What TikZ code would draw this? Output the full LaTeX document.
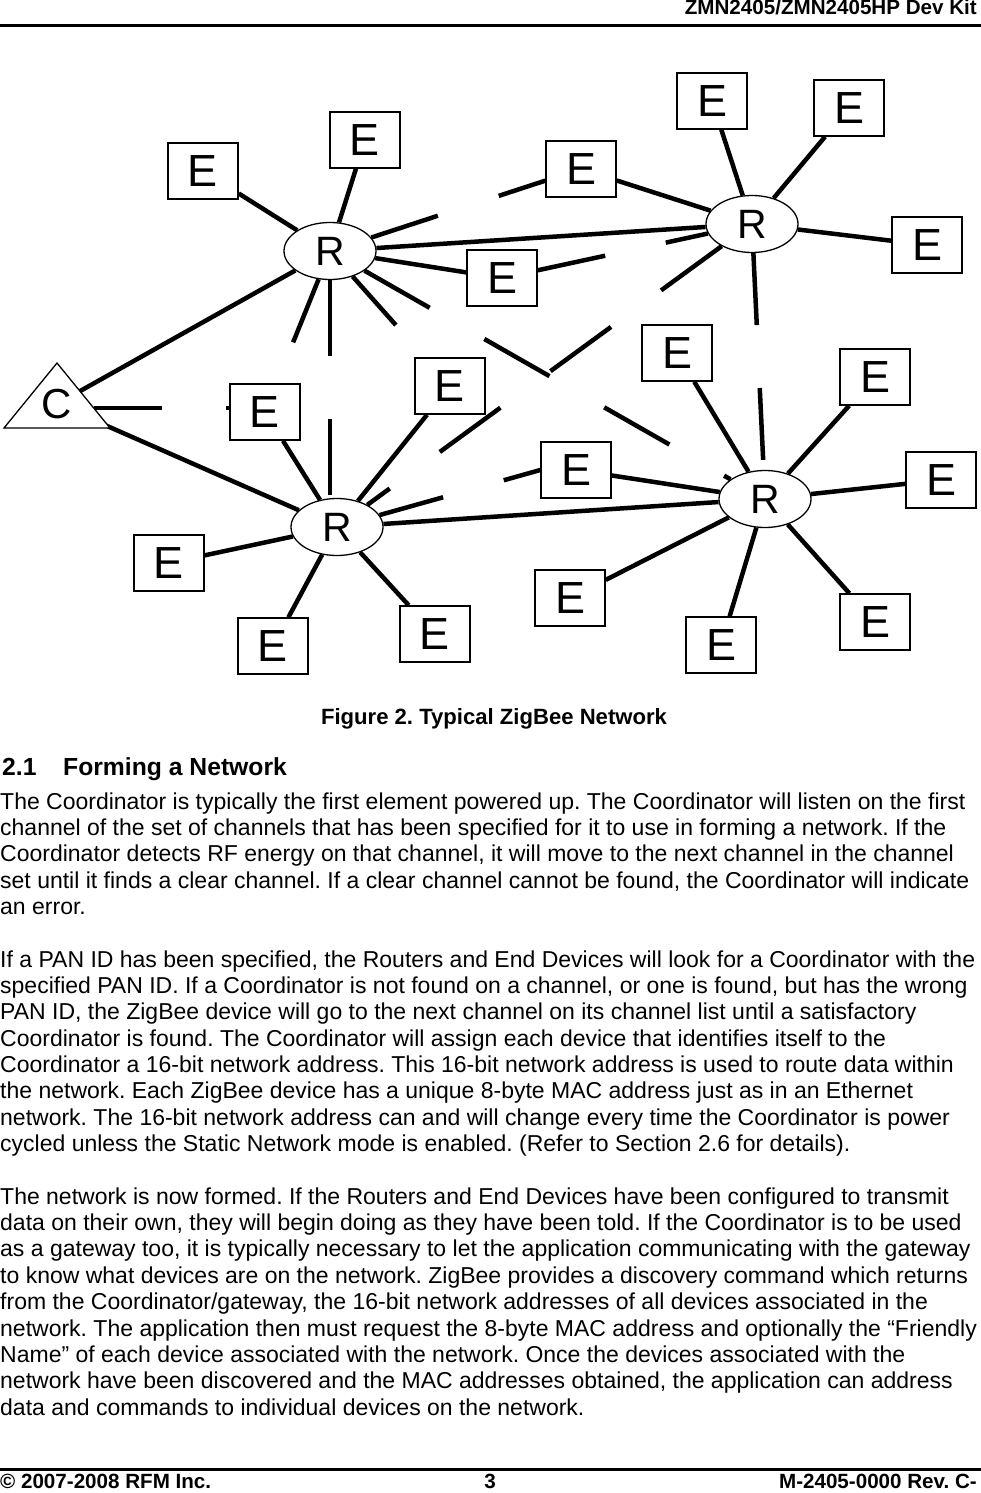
\documentclass[tikz,border=0pt]{standalone}
\usepackage{fontspec}
\setmainfont{Liberation Sans}
\usetikzlibrary{shapes.geometric,backgrounds}
\frenchspacing
\begin{document}
\begin{tikzpicture}[x=1pt,y=-1pt,
  ebox/.style={draw, line width=1.4pt, fill=white, minimum width=70pt, minimum height=56pt, inner sep=0pt, font=\fontsize{45}{45}\selectfont},
  router/.style={ellipse, draw, line width=1.3pt, fill=white, minimum width=92pt, minimum height=57pt, inner sep=0pt, font=\fontsize{41}{41}\selectfont},
  link/.style={line width=4.5pt},
  body/.style={anchor=base west, inner sep=0pt, font=\fontsize{23}{26}\selectfont},
  hdr/.style={inner sep=0pt, font=\bfseries\fontsize{20.6}{24}\selectfont},
  rulebar/.style={line width=3pt}]
\useasboundingbox (0,0) rectangle (981,1493);

% header / footer
\node[hdr, anchor=base east] (head) at (977,15) {ZMN2405/ZMN2405HP Dev Kit};
\draw[rulebar] (0,25.5) -- (981,25.5);
\draw[rulebar] (0,1469.5) -- (981,1469.5);
\node[hdr, anchor=base west] (footl) at (0,1488) {© 2007-2008 RFM Inc.};
\node[hdr, anchor=base] (footc) at (490,1488) {3};
\node[hdr, anchor=base east] (footr) at (977,1488) {M-2405-0000 Rev. C-};

% routers
\node[router] (R1) at (330,251) {R};
\node[router] (R2) at (752,224) {R};
\node[router] (R3) at (337,527) {R};
\node[router] (R4) at (765,499) {R};

% end devices
\node[ebox] (E1) at (203,171) {E};
\node[ebox] (E2) at (365,140) {E};
\node[ebox] (E3) at (712,101) {E};
\node[ebox] (E4) at (849,108) {E};
\node[ebox] (E5) at (581,169) {E};
\node[ebox] (E6) at (927,245) {E};
\node[ebox] (E7) at (502,278) {E};
\node[ebox] (E8) at (677,353) {E};
\node[ebox] (E9) at (450,386) {E};
\node[ebox] (E10) at (265,412) {E};
\node[ebox] (E11) at (875,377) {E};
\node[ebox] (E12) at (576,470) {E};
\node[ebox] (E13) at (941,480) {E};
\node[ebox] (E14) at (169,563) {E};
\node[ebox] (E15) at (570,598) {E};
\node[ebox] (E16) at (273,646) {E};
\node[ebox] (E17) at (435,634) {E};
\node[ebox] (E18) at (721,645) {E};
\node[ebox] (E19) at (875,622) {E};

% coordinator
\draw[line width=1.3pt, fill=white] (57,363) -- (110,428) -- (4,428) -- cycle;
\node[inner sep=0pt, font=\fontsize{42}{42}\selectfont] (C) at (57,404) {C};
\coordinate (Cw) at (94,408);

\begin{scope}[on background layer]
  % solid links
  \draw[link] (C) -- (R1);
  \draw[link] (C) -- (R3);
  \draw[link] (R1) -- (E1);
  \draw[link] (R1) -- (E2);
  \draw[link] (R1) -- (E7);
  \draw[link] (R1) -- (R2);
  \draw[link] (R2) -- (E3);
  \draw[link] (R2) -- (E4);
  \draw[link] (R2) -- (E5);
  \draw[link] (R2) -- (E6);
  \draw[link] (R3) -- (E9);
  \draw[link] (R3) -- (E10);
  \draw[link] (R3) -- (E14);
  \draw[link] (R3) -- (E16);
  \draw[link] (R3) -- (E17);
  \draw[link] (R3) -- (R4);
  \draw[link] (R4) -- (E8);
  \draw[link] (R4) -- (E11);
  \draw[link] (R4) -- (E12);
  \draw[link] (R4) -- (E13);
  \draw[link] (R4) -- (E15);
  \draw[link] (R4) -- (E18);
  \draw[link] (R4) -- (E19);
  % broken links
  \draw[link, dash pattern=on 70pt off 64pt] (R1) -- (E5);
  \draw[link, dash pattern=on 69pt off 62pt] (E7) -- (R2);
  \draw[link, dash pattern=on 75pt off 62pt] (R2) -- (R3);
  \draw[link, dash pattern=on 75pt off 63pt] (R1) -- (R4);
  \draw[link, dash pattern=on 72pt off 63pt] (R2) -- (R4);
  \draw[link, dash pattern=on 76pt off 63pt] (R1.south) -- (R1.south |- R3.north);
  \draw[link, dash pattern=on 66pt off 63pt] (R3) -- (E12.west);
  \draw[link, dash pattern=on 68pt off 64pt] (Cw) -- (Cw -| E10.west);
  \draw[link, dash pattern=on 68pt off 200pt] (R1) -- (E10);
  \draw[link, dash pattern=on 65pt off 200pt] (R1) -- (E9);
\end{scope}

% caption and heading
\node[inner sep=0pt, anchor=base, font=\bfseries\fontsize{22.1}{26}\selectfont] (cap) at (494,724) {Figure 2. Typical ZigBee Network};
\node[inner sep=0pt, anchor=base west, font=\bfseries\fontsize{24.7}{28}\selectfont] (secnum) at (2,775) {2.1};
\node[inner sep=0pt, anchor=base west, font=\bfseries\fontsize{24.7}{28}\selectfont] (sectitle) at (63,775) {Forming a Network};

% body text
\node[body] (t1) at (0,809.0) {The Coordinator is typically the first element powered up. The Coordinator will listen on the first};
\node[body] (t2) at (0,835.35) {channel of the set of channels that has been specified for it to use in forming a network. If the};
\node[body] (t3) at (0,861.7) {Coordinator detects RF energy on that channel, it will move to the next channel in the channel};
\node[body] (t4) at (0,888.05) {set until it finds a clear channel. If a clear channel cannot be found, the Coordinator will indicate};
\node[body] (t5) at (0,914.4) {an error.};
\node[body] (t6) at (0,967.1) {If a PAN ID has been specified, the Routers and End Devices will look for a Coordinator with the};
\node[body] (t7) at (0,993.45) {specified PAN ID. If a Coordinator is not found on a channel, or one is found, but has the wrong};
\node[body] (t8) at (0,1019.8) {PAN ID, the ZigBee device will go to the next channel on its channel list until a satisfactory};
\node[body] (t9) at (0,1046.15) {Coordinator is found. The Coordinator will assign each device that identifies itself to the};
\node[body] (t10) at (0,1072.5) {Coordinator a 16-bit network address. This 16-bit network address is used to route data within};
\node[body] (t11) at (0,1098.85) {the network. Each ZigBee device has a unique 8-byte MAC address just as in an Ethernet};
\node[body] (t12) at (0,1125.2) {network. The 16-bit network address can and will change every time the Coordinator is power};
\node[body] (t13) at (0,1151.55) {cycled unless the Static Network mode is enabled. (Refer to Section 2.6 for details).};
\node[body] (t14) at (0,1204.25) {The network is now formed. If the Routers and End Devices have been configured to transmit};
\node[body] (t15) at (0,1230.6) {data on their own, they will begin doing as they have been told. If the Coordinator is to be used};
\node[body] (t16) at (0,1256.95) {as a gateway too, it is typically necessary to let the application communicating with the gateway};
\node[body] (t17) at (0,1283.3) {to know what devices are on the network. ZigBee provides a discovery command which returns};
\node[body] (t18) at (0,1309.65) {from the Coordinator/gateway, the 16-bit network addresses of all devices associated in the};
\node[body] (t19) at (0,1336.0) {network. The application then must request the 8-byte MAC address and optionally the “Friendly};
\node[body] (t20) at (0,1362.35) {Name” of each device associated with the network. Once the devices associated with the};
\node[body] (t21) at (0,1388.7) {network have been discovered and the MAC addresses obtained, the application can address};
\node[body] (t22) at (0,1415.05) {data and commands to individual devices on the network.};
\end{tikzpicture}
\end{document}
